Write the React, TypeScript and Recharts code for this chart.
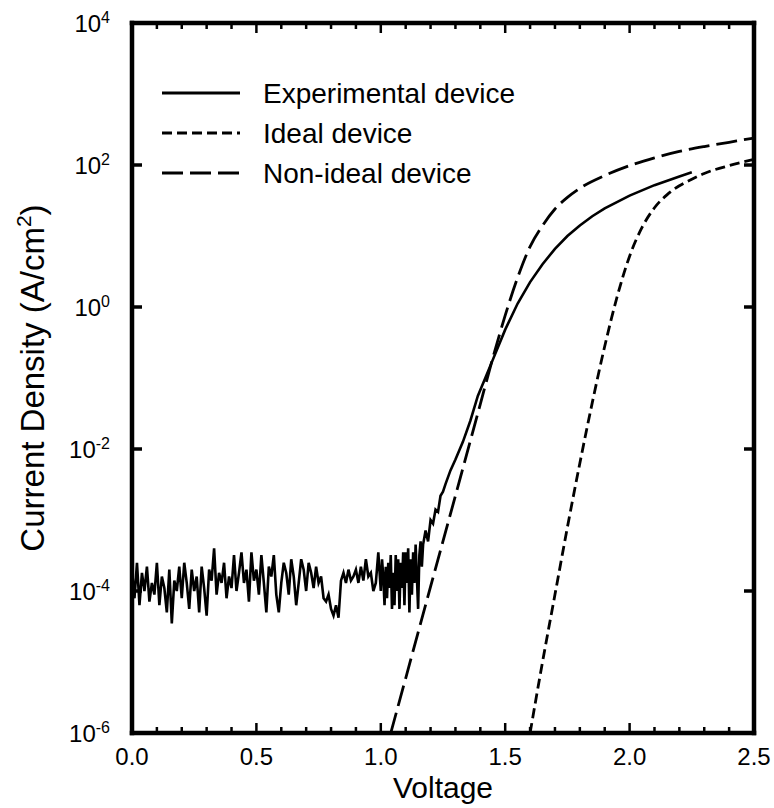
import React from 'react';
import { LineChart, Line, XAxis, YAxis, Legend, Label } from 'recharts';

const FONT = '"Liberation Sans", Arial, Helvetica, sans-serif';

// ---------- data ----------
const expVoltage = [
  0.00, 0.01, 0.02, 0.03, 0.04, 0.05, 0.06, 0.07, 0.08, 0.09,
  0.10, 0.11, 0.12, 0.13, 0.14, 0.15, 0.16, 0.17, 0.18, 0.19,
  0.20, 0.21, 0.22, 0.23, 0.24, 0.25, 0.26, 0.27, 0.28, 0.29,
  0.30, 0.31, 0.32, 0.33, 0.34, 0.35, 0.36, 0.37, 0.38, 0.39,
  0.40, 0.41, 0.42, 0.43, 0.44, 0.45, 0.46, 0.47, 0.48, 0.49,
  0.50, 0.51, 0.52, 0.53, 0.54, 0.55, 0.56, 0.57, 0.58, 0.59,
  0.60, 0.61, 0.62, 0.63, 0.64, 0.65, 0.66, 0.67, 0.68, 0.69,
  0.70, 0.71, 0.72, 0.73, 0.74, 0.75, 0.76, 0.77, 0.78, 0.79,
  0.80, 0.81, 0.82, 0.83, 0.84, 0.85, 0.86, 0.87, 0.88, 0.89,
  0.90, 0.91, 0.92, 0.93, 0.94, 0.95, 0.96, 0.97, 0.98, 0.99,
  1.000, 1.005, 1.010, 1.015, 1.020, 1.025, 1.030, 1.035, 1.040, 1.045,
  1.050, 1.055, 1.060, 1.065, 1.070, 1.075, 1.080, 1.085, 1.090, 1.095,
  1.100, 1.105, 1.110, 1.115, 1.120, 1.125, 1.130, 1.135, 1.140, 1.145,
  1.150, 1.155, 1.160, 1.165, 1.170,
  1.18, 1.19, 1.20, 1.21, 1.22, 1.23, 1.24, 1.25, 1.26, 1.28,
  1.30, 1.33, 1.36, 1.39, 1.42, 1.45, 1.50, 1.55, 1.60, 1.65,
  1.70, 1.75, 1.80, 1.85, 1.90, 2.00, 2.10, 2.20, 2.25,
];
const expCurrent = [
  2.0e-4, 7.9e-5, 2.5e-4, 6.3e-5, 1.8e-4, 1.0e-4, 2.2e-4, 7.1e-5, 1.3e-4, 8.9e-5,
  2.5e-4, 6.3e-5, 1.6e-4, 1.1e-4, 5.0e-5, 2.0e-4, 3.5e-5, 1.4e-4, 1.0e-4, 2.2e-4,
  7.9e-5, 2.5e-4, 1.3e-4, 5.6e-5, 2.0e-4, 1.0e-4, 1.6e-4, 5.0e-5, 2.2e-4, 1.1e-4,
  4.5e-5, 2.0e-4, 1.4e-4, 4.0e-4, 8.9e-5, 1.8e-4, 1.3e-4, 2.5e-4, 7.9e-5, 1.6e-4,
  1.1e-4, 3.2e-4, 1.0e-4, 1.8e-4, 3.5e-4, 1.3e-4, 2.0e-4, 7.1e-5, 3.5e-4, 1.4e-4,
  2.0e-4, 8.9e-5, 3.2e-4, 1.3e-4, 5.0e-5, 2.2e-4, 1.6e-4, 3.2e-4, 8.9e-5, 5.0e-5,
  1.3e-4, 2.5e-4, 1.8e-4, 8.9e-5, 2.8e-4, 1.6e-4, 6.3e-5, 1.3e-4, 2.8e-4, 2.0e-4,
  1.0e-4, 2.5e-4, 1.8e-4, 1.1e-4, 2.2e-4, 1.3e-4, 1.6e-4, 7.9e-5, 7.1e-5, 8.9e-5,
  5.6e-5, 4.5e-5, 6.3e-5, 4.2e-5, 1.4e-4, 1.8e-4, 1.3e-4, 2.0e-4, 1.4e-4, 1.6e-4,
  2.0e-4, 1.3e-4, 2.2e-4, 1.4e-4, 2.8e-4, 1.6e-4, 1.8e-4, 1.0e-4, 1.3e-4, 3.5e-4,
  1.0e-4, 2.8e-4, 1.6e-4, 6.3e-5, 2.2e-4, 7.9e-5, 2.5e-4, 1.1e-4, 3.2e-4, 5.6e-5,
  1.8e-4, 6.3e-5, 3.2e-4, 1.0e-4, 2.8e-4, 5.6e-5, 2.5e-4, 1.1e-4, 3.5e-4, 6.3e-5,
  3.5e-4, 1.3e-4, 4.0e-4, 5.0e-5, 2.8e-4, 8.9e-5, 3.5e-4, 1.3e-4, 4.5e-4, 1.6e-4,
  5.6e-5, 3.2e-4, 5.0e-4, 2.2e-4, 4.5e-4,
  7.1e-4, 5.0e-4, 1.0e-3, 8.9e-4, 1.4e-3, 1.3e-3, 2.2e-3, 2.5e-3, 3.2e-3, 5.0e-3,
  7.1e-3, 1.26e-2, 2.5e-2, 5.6e-2, 0.1, 0.18, 0.48, 1.12, 2.24, 4.0,
  6.6, 10, 14.1, 19, 24.5, 37, 52, 69, 79,
];

const idealVoltage = [1.60, 1.65, 1.70, 1.75, 1.80, 1.85, 1.90, 1.95, 2.00, 2.05, 2.10, 2.15, 2.20, 2.25, 2.30, 2.40, 2.50];
const idealCurrent = [1.0e-6, 1.0e-5, 8.9e-5, 7.9e-4, 6.3e-3, 4.5e-2, 0.28, 1.4, 5.2, 13.2, 25, 38, 51, 63, 76, 98, 120];

const nonIdealVoltage = [1.04, 1.10, 1.20, 1.30, 1.40, 1.45, 1.50, 1.55, 1.60, 1.65, 1.70, 1.75, 1.80, 1.90, 2.00, 2.10, 2.20, 2.30, 2.40, 2.50];
const nonIdealCurrent = [1.0e-6, 5.9e-6, 1.15e-4, 2.2e-3, 4.3e-2, 0.19, 0.76, 2.6, 7.1, 14, 24, 35, 47, 71, 98, 126, 155, 182, 209, 240];

const xTicks = [0, 0.1, 0.2, 0.3, 0.4, 0.5, 0.6, 0.7, 0.8, 0.9, 1.0, 1.1, 1.2, 1.3, 1.4, 1.5, 1.6, 1.7, 1.8, 1.9, 2.0, 2.1, 2.2, 2.3, 2.4, 2.5];
const xMajorTicks = [0, 0.5, 1.0, 1.5, 2.0, 2.5];
const xMajorLabels = ['0.0', '0.5', '1.0', '1.5', '2.0', '2.5'];
const yTicks = [1e-6, 1e-4, 1e-2, 1, 1e2, 1e4];
const yTickExponents = ['-6', '-4', '-2', '0', '2', '4'];

const seriesNames = ['Experimental device', 'Ideal device', 'Non-ideal device'];

// ---------- build tables ----------
const expData = expVoltage.map((v, i) => ({ v, j: expCurrent[i] }));
const idealData = idealVoltage.map((v, i) => ({ v, j: idealCurrent[i] }));
const nonIdealData = nonIdealVoltage.map((v, i) => ({ v, j: nonIdealCurrent[i] }));

const seriesDash = [undefined, '10 5', '21 7'];

const majorIndex = (v: number) => xMajorTicks.findIndex((t) => Math.abs(t - v) < 1e-6);

const BottomTick = (props: any) => {
  const { x, y, payload } = props;
  const idx = majorIndex(payload.value);
  return (
    <g>
      <line x1={x} x2={x} y1={y} y2={y - (idx >= 0 ? 10 : 6)} stroke="#000" strokeWidth={2.5} />
      {idx >= 0 && (
        <text x={x} y={y + 32} textAnchor="middle" fontSize={24} fontFamily={FONT} fill="#000">
          {xMajorLabels[idx]}
        </text>
      )}
    </g>
  );
};

const TopTick = (props: any) => {
  const { x, y, payload } = props;
  const idx = majorIndex(payload.value);
  return <line x1={x} x2={x} y1={y} y2={y + (idx >= 0 ? 10 : 6)} stroke="#000" strokeWidth={2.5} />;
};

const LeftTick = (props: any) => {
  const { x, y, index } = props;
  return (
    <g>
      <line x1={x} x2={x + 10} y1={y} y2={y} stroke="#000" strokeWidth={3.5} />
      <text x={x - 22} y={y + 8.5} textAnchor="end" fontSize={24} fontFamily={FONT} fill="#000">
        10
        <tspan fontSize={16} dy={-9}>{yTickExponents[index]}</tspan>
      </text>
    </g>
  );
};

const RightTick = (props: any) => {
  const { x, y } = props;
  return <line x1={x} x2={x - 10} y1={y} y2={y} stroke="#000" strokeWidth={3.5} />;
};

const YTitle = (props: any) => {
  const vb = props.viewBox || { x: 0, y: 23, width: 132, height: 710 };
  const cx = vb.x + 44;
  const cy = vb.y + vb.height / 2;
  return (
    <text
      transform={`rotate(-90, ${cx}, ${cy})`}
      x={cx}
      y={cy}
      textAnchor="middle"
      fontSize={33}
      fontFamily={FONT}
      fill="#000"
    >
      Current Density (A/cm
      <tspan fontSize={21} dy={-13}>2</tspan>
      <tspan dy={13}>)</tspan>
    </text>
  );
};

const XTitle = (props: any) => {
  const vb = props.viewBox || { x: 132, y: 733, width: 622, height: 75 };
  return (
    <text x={vb.x + vb.width / 2} y={vb.y + 65} textAnchor="middle" fontSize={30} fontFamily={FONT} fill="#000">
      Voltage
    </text>
  );
};

const renderLegend = () => (
  <svg width={380} height={120} style={{ display: 'block' }}>
    {seriesNames.map((name, i) => (
      <g key={name}>
        <line x1={2} x2={80} y1={20 + i * 40} y2={20 + i * 40} stroke="#000" strokeWidth={3} strokeDasharray={seriesDash[i]} />
        <text x={103} y={20 + i * 40 + 10} fontSize={28} fontFamily={FONT} fill="#000">
          {name}
        </text>
      </g>
    ))}
  </svg>
);

const axisLineStyle = { stroke: '#000', strokeWidth: 4.5, strokeLinecap: 'square' as const };

export default function App() {
  return (
    <div style={{ position: 'fixed', left: 0, top: 0, width: 774, height: 808, background: '#fff' }}>
      <LineChart width={774} height={808} margin={{ top: 22, right: 19, bottom: 0, left: 0 }}>
        <XAxis
          xAxisId="b"
          dataKey="v"
          type="number"
          domain={[0, 2.5]}
          ticks={xTicks}
          interval={0}
          allowDataOverflow
          height={75}
          tickSize={0}
          tickMargin={0}
          tickLine={false}
          axisLine={axisLineStyle}
          tick={<BottomTick />}
        >
          <Label content={<XTitle />} />
        </XAxis>
        <XAxis
          xAxisId="t"
          orientation="top"
          dataKey="v"
          type="number"
          domain={[0, 2.5]}
          ticks={xTicks}
          interval={0}
          allowDataOverflow
          height={1}
          tickSize={0}
          tickMargin={0}
          tickLine={false}
          axisLine={axisLineStyle}
          tick={<TopTick />}
        />
        <YAxis
          yAxisId="l"
          scale="log"
          domain={[1e-6, 1e4]}
          ticks={yTicks}
          interval={0}
          allowDataOverflow
          width={132}
          tickSize={0}
          tickMargin={0}
          tickLine={false}
          axisLine={axisLineStyle}
          tick={<LeftTick />}
        >
          <Label content={<YTitle />} />
        </YAxis>
        <YAxis
          yAxisId="r"
          orientation="right"
          scale="log"
          domain={[1e-6, 1e4]}
          ticks={yTicks}
          interval={0}
          allowDataOverflow
          width={1}
          tickSize={0}
          tickMargin={0}
          tickLine={false}
          axisLine={axisLineStyle}
          tick={<RightTick />}
        />
        <Legend
          layout="vertical"
          align="center"
          verticalAlign="middle"
          content={renderLegend}
          wrapperStyle={{ position: 'absolute', left: 160, top: 73, width: 380, height: 120 }}
        />
        <Line
          xAxisId="b"
          yAxisId="l"
          data={expData}
          dataKey="j"
          name={seriesNames[0]}
          type="linear"
          stroke="#000"
          strokeWidth={2.6}
          strokeLinejoin="miter"
          dot={false}
          activeDot={false}
          isAnimationActive={false}
        />
        <Line
          xAxisId="b"
          yAxisId="l"
          data={idealData}
          dataKey="j"
          name={seriesNames[1]}
          type="monotone"
          stroke="#000"
          strokeWidth={2.8}
          strokeDasharray={seriesDash[1]}
          dot={false}
          activeDot={false}
          isAnimationActive={false}
        />
        <Line
          xAxisId="b"
          yAxisId="l"
          data={nonIdealData}
          dataKey="j"
          name={seriesNames[2]}
          type="monotone"
          stroke="#000"
          strokeWidth={2.8}
          strokeDasharray={seriesDash[2]}
          dot={false}
          activeDot={false}
          isAnimationActive={false}
        />
      </LineChart>
    </div>
  );
}
